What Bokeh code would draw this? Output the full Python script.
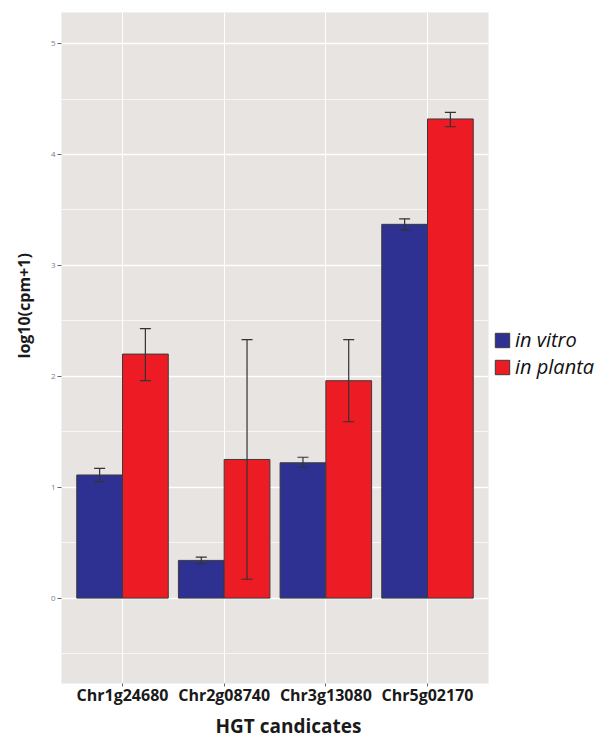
from bokeh.plotting import figure
from bokeh.models import (ColumnDataSource, FactorRange, Range1d, SingleIntervalTicker,
                          Whisker, TeeHead, Legend, LegendItem, Title)
from bokeh.transform import dodge
from bokeh.embed import file_html
from bokeh.resources import INLINE

# ---- data ----
genes = ["Chr1g24680", "Chr2g08740", "Chr3g13080", "Chr5g02170"]
in_vitro = [1.11, 0.34, 1.22, 3.37]
in_vitro_low = [1.05, 0.31, 1.18, 3.32]
in_vitro_high = [1.17, 0.37, 1.27, 3.42]
in_planta = [2.20, 1.25, 1.96, 4.32]
in_planta_low = [1.96, 0.17, 1.59, 4.25]
in_planta_high = [2.43, 2.33, 2.33, 4.38]
series_names = ["in vitro", "in planta"]

BLUE = "#2E3192"
RED = "#ED1C24"
PANEL = "#E7E4E2"
FONT = "Open Sans"

src = ColumnDataSource(dict(gene=genes, iv=in_vitro, iv_lo=in_vitro_low, iv_hi=in_vitro_high,
                            ip=in_planta, ip_lo=in_planta_low, ip_hi=in_planta_high))

p = figure(x_range=FactorRange(factors=genes, range_padding=0.1, range_padding_units="absolute"),
           y_range=Range1d(-0.77, 5.28),
           frame_width=427, frame_height=671,
           min_border_left=61, min_border_right=127, min_border_top=12, min_border_bottom=54,
           output_backend="svg", toolbar_location=None)

p.background_fill_color = PANEL
p.border_fill_color = "white"
p.outline_line_color = None

bw = 0.45
r_iv = p.vbar(x=dodge("gene", -bw / 2, range=p.x_range), top="iv", width=bw, source=src,
              fill_color=BLUE, line_color="#3a3a3a", line_width=1)
r_ip = p.vbar(x=dodge("gene", bw / 2, range=p.x_range), top="ip", width=bw, source=src,
              fill_color=RED, line_color="#3a3a3a", line_width=1)

for off, lo, hi in [(-bw / 2, "iv_lo", "iv_hi"), (bw / 2, "ip_lo", "ip_hi")]:
    w = Whisker(source=src, base=dodge("gene", off, range=p.x_range), upper=hi, lower=lo,
                line_color="#333333", line_width=1.2,
                upper_head=TeeHead(size=11, line_color="#333333", line_width=1.2),
                lower_head=TeeHead(size=11, line_color="#333333", line_width=1.2))
    w.level = "overlay"
    p.add_layout(w)

legend = Legend(items=[LegendItem(label=series_names[0], renderers=[r_iv]),
                       LegendItem(label=series_names[1], renderers=[r_ip])],
                location=(5, 303), orientation="vertical",
                glyph_width=18, glyph_height=18, label_standoff=4, spacing=0,
                padding=0, margin=0,
                label_text_font=FONT, label_text_font_style="italic",
                label_text_font_size="20px", label_text_color="#111111",
                background_fill_alpha=0, border_line_alpha=0)
p.add_layout(legend, "right")

# grid
p.ygrid.ticker = SingleIntervalTicker(interval=1, num_minor_ticks=2)
p.ygrid.grid_line_color = "white"
p.ygrid.grid_line_width = 1.4
p.ygrid.minor_grid_line_color = "white"
p.ygrid.minor_grid_line_width = 0.7
p.xgrid.grid_line_color = "white"
p.xgrid.grid_line_width = 1.0

# y axis
p.yaxis.ticker = SingleIntervalTicker(interval=1, num_minor_ticks=2)
p.yaxis.axis_line_color = None
p.yaxis.minor_tick_line_color = None
p.yaxis.major_tick_in = 0
p.yaxis.major_tick_out = 4
p.yaxis.major_tick_line_color = "#666666"
p.yaxis.major_label_standoff = 2
p.yaxis.major_label_text_font = FONT
p.yaxis.major_label_text_font_size = "8px"
p.yaxis.major_label_text_color = "#808080"

# x axis
p.xaxis.axis_line_color = None
p.xaxis.major_tick_in = 0
p.xaxis.major_tick_out = 3
p.xaxis.major_tick_line_color = "#666666"
p.xaxis.major_label_standoff = -3
p.xaxis.major_label_text_font = FONT
p.xaxis.major_label_text_font_style = "bold"
p.xaxis.major_label_text_font_size = "16px"
p.xaxis.major_label_text_color = "#1a1a1a"

ytitle = Title(text="log10(cpm+1)", align="left", offset=325, standoff=23, vertical_align="middle",
               text_font=FONT, text_font_style="bold", text_font_size="16px", text_color="#1a1a1a")
p.add_layout(ytitle, "left")
xtitle = Title(text="HGT candicates", align="left", offset=154, standoff=4,
               text_font=FONT, text_font_style="bold", text_font_size="19px", text_color="#1a1a1a")
p.add_layout(xtitle, "below")

open("out.html", "w").write(file_html(p, INLINE))
